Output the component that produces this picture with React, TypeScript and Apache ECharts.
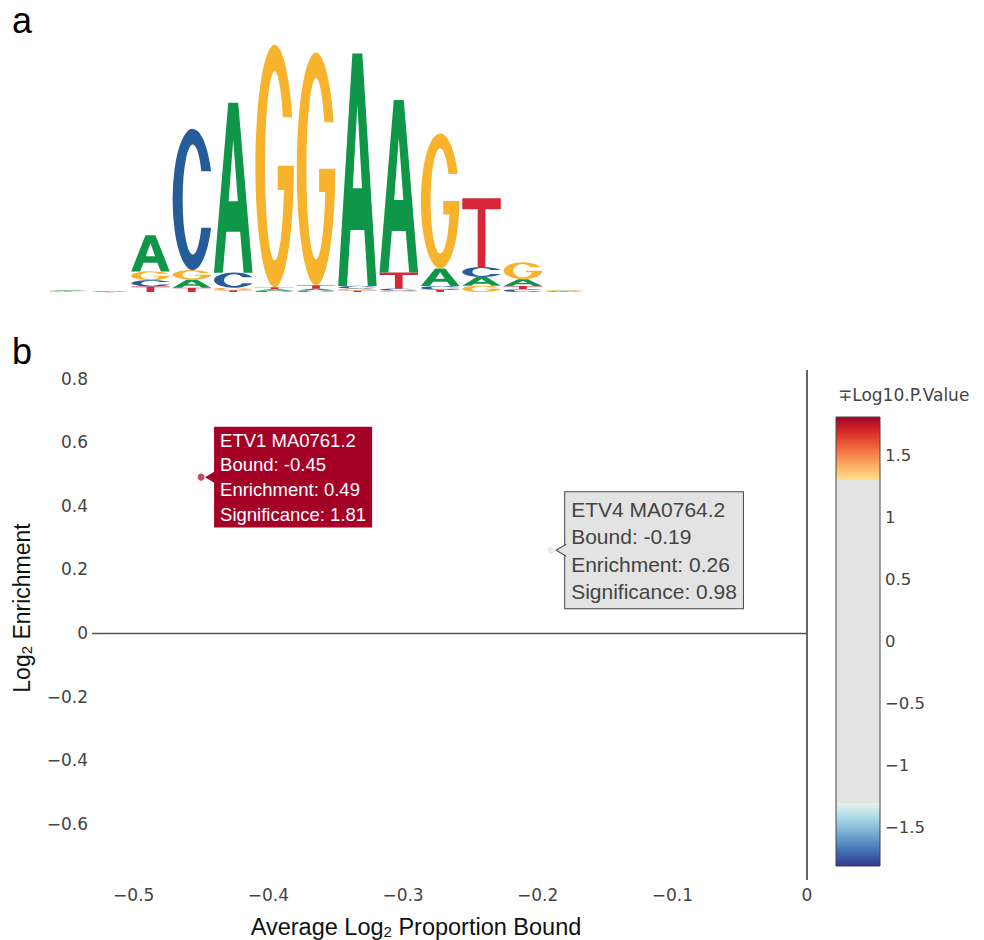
import React, { useEffect, useRef } from "react";
import * as echarts from "echarts";

// ---------------- Panel a : sequence logo (bits) ----------------
const LOGO_POSITIONS = [1, 2, 3, 4, 5, 6, 7, 8, 9, 10, 11, 12, 13];
const LOGO_LETTERS = ["A", "C", "G", "T"];
const BITS_A = [0.005, 0.003, 0.29, 0.065, 1.36, 0.012, 0.015, 1.86, 1.38, 0.14, 0.07, 0.055, 0.005];
const BITS_C = [0.003, 0.002, 0.05, 1.13, 0.12, 0.01, 0.012, 0.022, 0.015, 0.03, 0.08, 0.022, 0.003];
const BITS_G = [0.004, 0.002, 0.07, 0.075, 0.02, 1.94, 1.86, 0.015, 0.012, 1.08, 0.05, 0.135, 0.006];
const BITS_T = [0.002, 0.001, 0.045, 0.035, 0.015, 0.016, 0.028, 0.012, 0.13, 0.018, 0.55, 0.026, 0.002];
const LOGO_Y_MAX = 2;

// ---------------- Panel b : motif scatter ----------------
const MOTIF_NAMES = ["ETV1 MA0761.2", "ETV4 MA0764.2"];
const MOTIF_BOUND = [-0.45, -0.19];
const MOTIF_ENRICHMENT = [0.49, 0.26];
const MOTIF_SIGNIFICANCE = [1.81, 0.98];

const X_MIN = -0.531;
const X_MAX = 0;
const X_STEP = 0.1;
const Y_MIN = -0.777;
const Y_MAX = 0.827;
const Y_STEP = 0.2;
const CB_MIN = -1.81;
const CB_MAX = 1.81;
const CB_STEP = 0.5;
const SIG_CUTOFF = 1.3;

// colour scale (value, colour)
const CB_TOP_STOPS: [number, string][] = [
  [1.3, "#fee090"],
  [1.42, "#fdae61"],
  [1.55, "#f46d43"],
  [1.68, "#d73027"],
  [1.81, "#a50026"],
];
const CB_BOTTOM_STOPS: [number, string][] = [
  [-1.81, "#313695"],
  [-1.68, "#4575b4"],
  [-1.55, "#74add1"],
  [-1.42, "#abd9e9"],
  [-1.3, "#e8f4ea"],
];
const CB_NEUTRAL = "#e3e3e3";

// ---------------- styling helpers ----------------
const LETTER_COLORS = ["#109648", "#255C99", "#F7B32B", "#D62839"];
const LETTER_PATHS = [
  "M0,100 L37,0 L63,0 L100,100 L77,100 L68,76 L32,76 L23,100 Z M50,22 L38,58 L62,58 Z",
  "M95.8,30 A50,50 0 1 0 95.8,70 L71.5,70 A25,39 0 1 1 71.5,30 Z",
  "M95.8,30 A50,50 0 1 0 100,50 L58,50 L58,60 L74.2,60 A25,39 0 1 1 71.5,30 Z",
  "M0,0 L100,0 L100,16 L60,16 L60,100 L40,100 L40,16 L0,16 Z",
];

const TICK_FONT = "DejaVu Sans";
const TEXT_FONT = "Liberation Sans";

function hexToRgb(h: string) {
  const n = parseInt(h.slice(1), 16);
  return [(n >> 16) & 255, (n >> 8) & 255, n & 255];
}
function rgbToHex(c: number[]) {
  return "#" + c.map((v) => Math.round(v).toString(16).padStart(2, "0")).join("");
}
function mix(a: string, b: string, t: number) {
  const ca = hexToRgb(a);
  const cb = hexToRgb(b);
  return rgbToHex(ca.map((v, i) => v + (cb[i] - v) * t));
}
function interpStops(stops: [number, string][], v: number) {
  if (v <= stops[0][0]) return stops[0][1];
  for (let i = 1; i < stops.length; i++) {
    if (v <= stops[i][0]) {
      const t = (v - stops[i - 1][0]) / (stops[i][0] - stops[i - 1][0]);
      return mix(stops[i - 1][1], stops[i][1], t);
    }
  }
  return stops[stops.length - 1][1];
}
function sigColor(v: number) {
  if (v >= SIG_CUTOFF) return interpStops(CB_TOP_STOPS, v);
  if (v <= -SIG_CUTOFF) return interpStops(CB_BOTTOM_STOPS, v);
  return CB_NEUTRAL;
}

const fmtTick = (step: number) => (v: number) => {
  const r = Math.round(v / step) * step;
  if (Math.abs(v - r) > 1e-6) return "";
  const s = parseFloat(r.toFixed(3)).toString();
  if (s === "0" || s === "-0") return "0";
  return s.replace("-", "\u2212");
};

function buildOption(): any {
  // logo stacks: smallest letter at the bottom
  const bits = [BITS_A, BITS_C, BITS_G, BITS_T];
  const logoData: number[][] = [];
  LOGO_POSITIONS.forEach((pos, ci) => {
    const order = [0, 1, 2, 3].sort((a, b) => bits[a][ci] - bits[b][ci]);
    let acc = 0;
    order.forEach((li) => {
      const h = bits[li][ci];
      logoData.push([pos, acc, acc + h, li]);
      acc += h;
    });
  });

  // colour bar gradient stops (offset 0 = top = CB_MAX)
  const span = CB_MAX - CB_MIN;
  const off = (v: number) => (CB_MAX - v) / span;
  const gradStops: { offset: number; color: string }[] = [];
  [...CB_TOP_STOPS].reverse().forEach(([v, c]) => gradStops.push({ offset: off(v), color: c }));
  gradStops.push({ offset: off(SIG_CUTOFF), color: CB_NEUTRAL });
  gradStops.push({ offset: off(-SIG_CUTOFF), color: CB_NEUTRAL });
  [...CB_BOTTOM_STOPS].reverse().forEach(([v, c]) => gradStops.push({ offset: off(v), color: c }));

  const points = MOTIF_NAMES.map((name, i) => {
    const sig = MOTIF_SIGNIFICANCE[i];
    const c = sigColor(sig);
    const dark = Math.abs(sig) >= SIG_CUTOFF;
    return {
      name,
      value: [MOTIF_BOUND[i], MOTIF_ENRICHMENT[i], sig],
      itemStyle: { color: mix(c, "#ffffff", 0.3), opacity: 1 },
      label: dark
        ? {
            color: "#ffffff",
            backgroundColor: c,
            borderColor: c,
            borderWidth: 1,
            fontSize: 18.5,
            lineHeight: 24.7,
            padding: [0, 5, 0, 5],
            opacity: 1,
          }
        : {
            color: "#444444",
            backgroundColor: c,
            borderColor: "#444444",
            borderWidth: 1,
            fontSize: 21,
            lineHeight: 27.5,
            padding: [3, 6, 3, 6],
            opacity: 1,
          },
    };
  });

  const arrows = MOTIF_NAMES.map((name, i) => {
    const sig = MOTIF_SIGNIFICANCE[i];
    const c = sigColor(sig);
    const dark = Math.abs(sig) >= SIG_CUTOFF;
    return {
      name,
      value: [MOTIF_BOUND[i], MOTIF_ENRICHMENT[i], sig],
      itemStyle: { color: c, borderColor: dark ? c : "#444444", borderWidth: 1, opacity: 1 },
    };
  });

  return {
    animation: false,
    backgroundColor: "#ffffff",
    grid: [
      { left: 92, top: 370, width: 715, height: 510 },
      { left: 836, top: 417, width: 44, height: 449 },
      { left: 47, top: 42, width: 538, height: 250 },
    ],
    xAxis: [
      {
        gridIndex: 0,
        type: "value",
        min: X_MIN,
        max: X_MAX,
        minInterval: X_STEP,
        maxInterval: X_STEP,
        axisLine: { show: false },
        axisTick: { show: false },
        splitLine: { show: false },
        axisLabel: {
          color: "#444444",
          fontFamily: TICK_FONT,
          fontSize: 17,
          margin: 6,
          showMinLabel: false,
          formatter: fmtTick(X_STEP),
        },
      },
      { gridIndex: 1, type: "value", min: 0, max: 1, show: false },
      { gridIndex: 2, type: "value", min: 0.5, max: 13.5, show: false },
    ],
    yAxis: [
      {
        gridIndex: 0,
        type: "value",
        min: Y_MIN,
        max: Y_MAX,
        minInterval: Y_STEP,
        maxInterval: Y_STEP,
        axisLine: { show: false },
        axisTick: { show: false },
        splitLine: { show: false },
        axisLabel: {
          color: "#444444",
          fontFamily: TICK_FONT,
          fontSize: 17,
          margin: 4,
          showMinLabel: false,
          showMaxLabel: false,
          formatter: fmtTick(Y_STEP),
        },
      },
      {
        gridIndex: 1,
        type: "value",
        position: "right",
        min: CB_MIN,
        max: CB_MAX,
        minInterval: CB_STEP,
        maxInterval: CB_STEP,
        axisLine: { show: false },
        axisTick: { show: false },
        splitLine: { show: false },
        axisLabel: {
          color: "#444444",
          fontFamily: TICK_FONT,
          fontSize: 16.5,
          margin: 5,
          showMinLabel: false,
          showMaxLabel: false,
          formatter: fmtTick(CB_STEP),
        },
      },
      { gridIndex: 2, type: "value", min: 0, max: LOGO_Y_MAX, show: false },
    ],
    series: [
      {
        type: "scatter",
        xAxisIndex: 0,
        yAxisIndex: 0,
        symbolSize: 7,
        z: 2,
        itemStyle: { opacity: 1 },
        data: points,
        label: {
          show: true,
          position: "right",
          distance: 10.5,
          align: "left",
          opacity: 1,
          fontFamily: TEXT_FONT,
          formatter: (p: any) =>
            `${p.name}\nBound: ${p.value[0].toFixed(2)}\nEnrichment: ${p.value[1].toFixed(2)}\nSignificance: ${p.value[2].toFixed(2)}`,
        },
        markLine: {
          silent: true,
          symbol: "none",
          label: { show: false },
          data: [
            { yAxis: 0, lineStyle: { color: "#555555", width: 1.3, type: "solid" } },
            { xAxis: 0, lineStyle: { color: "#666666", width: 2, type: "solid" } },
          ],
        },
      },
      {
        type: "scatter",
        xAxisIndex: 0,
        yAxisIndex: 0,
        z: 3,
        silent: true,
        symbol: "path://M10,0 L0,6 L10,12",
        symbolSize: [10, 12],
        symbolOffset: [10, 0],
        symbolKeepAspect: false,
        itemStyle: { opacity: 1 },
        data: arrows,
      },
      {
        type: "custom",
        xAxisIndex: 1,
        yAxisIndex: 1,
        silent: true,
        data: [[0, 0]],
        renderItem: (_params: any, api: any) => {
          const tl = api.coord([0, CB_MAX]);
          const br = api.coord([1, CB_MIN]);
          return {
            type: "rect",
            shape: { x: tl[0], y: tl[1], width: br[0] - tl[0], height: br[1] - tl[1] },
            style: {
              fill: new echarts.graphic.LinearGradient(0, 0, 0, 1, gradStops),
              stroke: "#444444",
              lineWidth: 1,
            },
          };
        },
      },
      {
        type: "custom",
        xAxisIndex: 2,
        yAxisIndex: 2,
        silent: true,
        data: logoData,
        renderItem: (_params: any, api: any) => {
          const x = api.value(0);
          const y0 = api.value(1);
          const y1 = api.value(2);
          const li = api.value(3);
          const tl = api.coord([x - 0.465, y1]);
          const br = api.coord([x + 0.465, y0]);
          return {
            type: "path",
            shape: {
              pathData: LETTER_PATHS[li],
              x: tl[0],
              y: tl[1],
              width: br[0] - tl[0],
              height: Math.max(br[1] - tl[1], 0.3),
              layout: "cover",
            },
            style: { fill: LETTER_COLORS[li] },
          };
        },
      },
    ],
    graphic: [
      {
        type: "text",
        x: 12,
        y: 20,
        style: { text: "a", fill: "#000", fontSize: 36, fontFamily: TEXT_FONT, align: "left", verticalAlign: "middle" },
      },
      {
        type: "text",
        x: 12,
        y: 351,
        style: { text: "b", fill: "#000", fontSize: 36, fontFamily: TEXT_FONT, align: "left", verticalAlign: "middle" },
      },
      {
        type: "text",
        x: 416,
        y: 927,
        style: {
          text: "Average Log{sub|2} Proportion Bound",
          fill: "#111",
          fontSize: 23.5,
          lineHeight: 24,
          fontFamily: TEXT_FONT,
          align: "center",
          verticalAlign: "middle",
          rich: { sub: { fontSize: 15, fontFamily: TEXT_FONT, verticalAlign: "bottom", lineHeight: 10 } },
        },
      },
      {
        type: "text",
        x: 22,
        y: 608,
        rotation: Math.PI / 2,
        style: {
          text: "Log{sub|2} Enrichment",
          fill: "#111",
          fontSize: 23,
          lineHeight: 24,
          fontFamily: TEXT_FONT,
          align: "center",
          verticalAlign: "middle",
          rich: { sub: { fontSize: 15, fontFamily: TEXT_FONT, verticalAlign: "bottom", lineHeight: 10 } },
        },
      },
      {
        type: "text",
        x: 838,
        y: 395,
        style: {
          text: "\u2213Log10.P.Value",
          fill: "#444",
          fontSize: 17,
          fontFamily: TICK_FONT,
          align: "left",
          verticalAlign: "middle",
        },
      },
    ],
  };
}

export default function App() {
  const ref = useRef<HTMLDivElement>(null);
  useEffect(() => {
    document.body.style.margin = "0";
    const chart = echarts.init(ref.current as HTMLDivElement, null, { renderer: "svg" });
    chart.setOption(buildOption());
    return () => chart.dispose();
  }, []);
  return <div ref={ref} style={{ position: "absolute", left: 0, top: 0, width: 984, height: 940 }} />;
}
